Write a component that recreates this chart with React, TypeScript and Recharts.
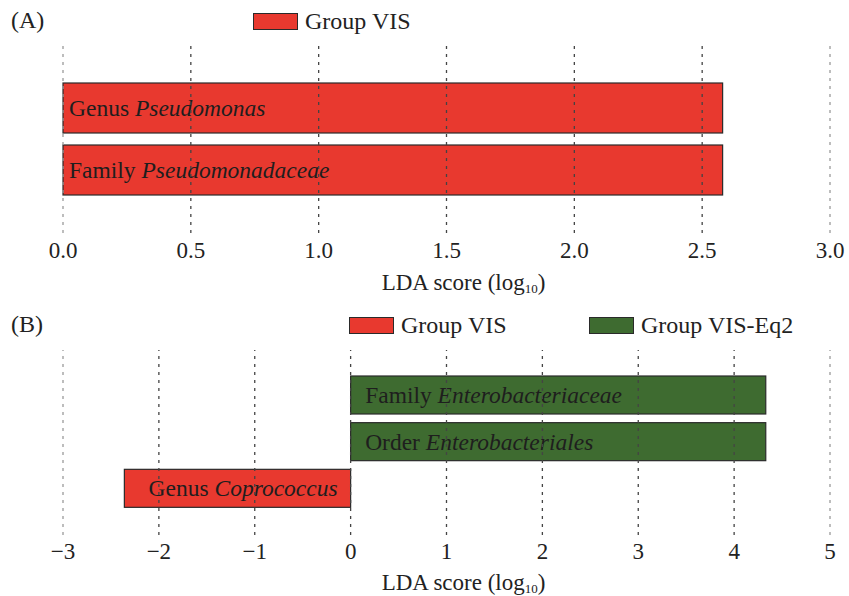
import React from 'react';
import { BarChart, Bar, XAxis, YAxis, ReferenceLine, Legend } from 'recharts';

const FONT = '"Liberation Serif", "Times New Roman", Times, serif';

// panel A
const ranksA = ['Genus', 'Family'];
const taxaA = ['Pseudomonas', 'Pseudomonadaceae'];
const scoresA = [2.58, 2.58];
const groupsA = ['VIS', 'VIS'];
const ticksA = [0, 0.5, 1, 1.5, 2, 2.5, 3];

// panel B
const ranksB = ['Family', 'Order', 'Genus'];
const taxaB = ['Enterobacteriaceae', 'Enterobacteriales', 'Coprococcus'];
const scoresB = [4.33, 4.33, -2.36];
const groupsB = ['VIS-Eq2', 'VIS-Eq2', 'VIS'];
const ticksB = [-3, -2, -1, 0, 1, 2, 3, 4, 5];

const legendA = ['VIS'];
const legendB = ['VIS', 'VIS-Eq2'];
const groupColors: Record<string, string> = { VIS: '#e8392f', 'VIS-Eq2': '#3e6b30' };

const rowsA = taxaA.map((t, i) => ({ name: t, rank: ranksA[i], score: scoresA[i], group: groupsA[i] }));
const rowsB = taxaB.map((t, i) => ({ name: t, rank: ranksB[i], score: scoresB[i], group: groupsB[i] }));

const BarShape = (props: any) => {
  const { x, y, width, height, payload, pad } = props;
  const left = Math.min(x, x + width);
  const w = Math.abs(width);
  const neg = payload.score < 0;
  return (
    <g>
      <rect x={left} y={y} width={w} height={height} fill={groupColors[payload.group]} stroke="#2a2a2a" strokeWidth={1.2} />
      <text
        x={neg ? left + w - 13 : left + pad}
        y={y + height / 2 + 8}
        textAnchor={neg ? 'end' : 'start'}
        fontFamily={FONT}
        fontSize={23.5}
        fill="#1e1e1e"
      >
        <tspan>{payload.rank + ' '}</tspan>
        <tspan fontStyle="italic">{payload.name}</tspan>
      </text>
    </g>
  );
};

const AxisTitle = (props: any) => {
  const vb = props.viewBox;
  return (
    <text x={vb.x + vb.width / 2 + 17} y={vb.y + props.shift} textAnchor="middle" fontFamily={FONT} fontSize={23} fill="#222">
      LDA score (log<tspan fontSize={13} dy={3}>10</tspan><tspan dy={-3}>)</tspan>
    </text>
  );
};

const LegendBox = ({ groups, itemWidth }: { groups: string[]; itemWidth: number }) => (
  <div style={{ display: 'flex', fontFamily: FONT, fontSize: 24, lineHeight: '24px', color: '#222' }}>
    {groups.map((g) => (
      <div key={g} style={{ display: 'flex', alignItems: 'center', width: itemWidth }}>
        <span style={{ display: 'inline-block', width: 43, height: 15, background: groupColors[g], border: '1px solid #2a2a2a', marginRight: 7 }} />
        <span>Group {g}</span>
      </div>
    ))}
  </div>
);

const fmtA = (v: number) => v.toFixed(1);
const fmtB = (v: number) => (v < 0 ? '\u2212' + Math.abs(v) : String(v));

const gridStroke = (i: number, n: number) => (i === 0 || i === n - 1 ? '#9a9a9a' : '#444');

const panelLabel = (text: string, top: number) => (
  <div style={{ position: 'absolute', left: 11, top, fontFamily: FONT, fontSize: 24, lineHeight: '24px', color: '#222' }}>{text}</div>
);

export default function App() {
  return (
    <div style={{ position: 'absolute', left: 0, top: 0, width: 849, height: 596, background: '#fff', overflow: 'hidden' }}>
      <div style={{ position: 'absolute', left: 0, top: 0 }}>
        <BarChart width={849} height={300} data={rowsA} layout="vertical" margin={{ top: 45, right: 19, left: 63, bottom: 7 }}>
          <XAxis
            type="number"
            domain={[0, 3]}
            ticks={ticksA}
            tickFormatter={fmtA}
            axisLine={false}
            tickLine={false}
            tickMargin={3}
            height={60}
            tick={{ fontSize: 23, fill: '#222', fontFamily: FONT }}
            label={<AxisTitle shift={57} />}
          />
          <YAxis type="category" dataKey="name" hide padding={{ top: 32, bottom: 32 }} />
          <Legend
            layout="horizontal"
            verticalAlign="middle"
            align="center"
            wrapperStyle={{ top: 9, left: 253, width: 400 }}
            content={() => <LegendBox groups={legendA} itemWidth={240} />}
          />
          <Bar dataKey="score" barSize={50} isAnimationActive={false} shape={(p: any) => <BarShape {...p} pad={6} />} />
          {ticksA.map((t, i) => (
            <ReferenceLine key={t} x={t} stroke={gridStroke(i, ticksA.length)} strokeWidth={1.3} strokeDasharray="3 5" />
          ))}
        </BarChart>
      </div>
      <div style={{ position: 'absolute', left: 0, top: 300 }}>
        <BarChart width={849} height={296} data={rowsB} layout="vertical" margin={{ top: 50, right: 19, left: 63, bottom: 6 }}>
          <XAxis
            type="number"
            domain={[-3, 5]}
            ticks={ticksB}
            tickFormatter={fmtB}
            axisLine={false}
            tickLine={false}
            tickMargin={2}
            height={55}
            tick={{ fontSize: 23, fill: '#222', fontFamily: FONT }}
            label={<AxisTitle shift={55} />}
          />
          <YAxis type="category" dataKey="name" hide padding={{ top: 22, bottom: 23 }} />
          <Legend
            layout="horizontal"
            verticalAlign="middle"
            align="center"
            wrapperStyle={{ top: 13, left: 349, width: 480 }}
            content={() => <LegendBox groups={legendB} itemWidth={243} />}
          />
          <Bar dataKey="score" barSize={38} isAnimationActive={false} shape={(p: any) => <BarShape {...p} pad={14.5} />} />
          {ticksB.map((t, i) => (
            <ReferenceLine key={t} x={t} stroke={gridStroke(i, ticksB.length)} strokeWidth={1.3} strokeDasharray="3 5" />
          ))}
        </BarChart>
      </div>
      {panelLabel('(A)', 8)}
      {panelLabel('(B)', 312)}
    </div>
  );
}
